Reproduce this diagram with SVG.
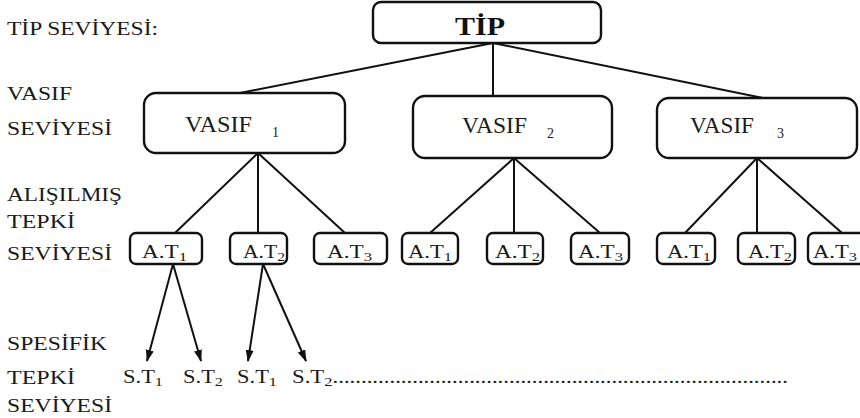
<svg xmlns="http://www.w3.org/2000/svg" width="860" height="418" viewBox="0 0 860 418">
<defs>
<style>
.bg{fill:#ffffff}
.box{fill:#ffffff;stroke:#111;stroke-width:2.4}
text{font-family:'Liberation Serif','DejaVu Serif',serif;fill:#1a1a1a}
.lbl{font-size:18px}
.vs{font-size:22.5px}
.tip{font-size:26px;font-weight:bold;fill:#111}
.at{font-size:18px}
.sub{font-size:13px}
.vsub{font-size:14px}
.ln{stroke:#111;stroke-width:2;fill:none}
.ar{stroke:#111;stroke-width:2;fill:none;marker-end:url(#ah)}
</style>
<marker id="ah" viewBox="0 0 12 8" refX="11" refY="4" markerWidth="12" markerHeight="8" markerUnits="userSpaceOnUse" orient="auto">
<path d="M0,0 L12,4 L0,8 Z" fill="#111"/>
</marker>
</defs>
<rect class="bg" x="0" y="0" width="860" height="418"/>

<g id="level-labels">
<text class="lbl" x="7" y="35" textLength="151" lengthAdjust="spacingAndGlyphs">TİP SEVİYESİ:</text>
<text class="lbl" x="7" y="100" textLength="65" lengthAdjust="spacingAndGlyphs">VASIF</text>
<text class="lbl" x="7" y="135" textLength="105" lengthAdjust="spacingAndGlyphs">SEVİYESİ</text>
<text class="lbl" x="7" y="201" textLength="115" lengthAdjust="spacingAndGlyphs">ALIŞILMIŞ</text>
<text class="lbl" x="7" y="228" textLength="68" lengthAdjust="spacingAndGlyphs">TEPKİ</text>
<text class="lbl" x="7" y="260" textLength="105" lengthAdjust="spacingAndGlyphs">SEVİYESİ</text>
<text class="lbl" x="7" y="350" textLength="100" lengthAdjust="spacingAndGlyphs">SPESİFİK</text>
<text class="lbl" x="7" y="384" textLength="68" lengthAdjust="spacingAndGlyphs">TEPKİ</text>
<text class="lbl" x="7" y="412" textLength="105" lengthAdjust="spacingAndGlyphs">SEVİYESİ</text>
</g>

<g id="connectors">
<line class="ln" x1="493" y1="43" x2="240" y2="93"/>
<line class="ln" x1="493" y1="43" x2="493" y2="96"/>
<line class="ln" x1="493" y1="43" x2="763" y2="98"/>
<line class="ln" x1="258" y1="153" x2="175" y2="233"/>
<line class="ln" x1="258" y1="153" x2="258" y2="233"/>
<line class="ln" x1="258" y1="153" x2="345" y2="233"/>
<line class="ln" x1="514" y1="158" x2="430" y2="233"/>
<line class="ln" x1="514" y1="158" x2="514" y2="233"/>
<line class="ln" x1="514" y1="158" x2="600" y2="233"/>
<line class="ln" x1="757" y1="158" x2="685" y2="233"/>
<line class="ln" x1="757" y1="158" x2="757" y2="233"/>
<line class="ln" x1="757" y1="158" x2="842" y2="233"/>
<line class="ar" x1="173" y1="264" x2="147" y2="361"/>
<line class="ar" x1="173" y1="264" x2="201" y2="361"/>
<line class="ar" x1="263" y1="264" x2="248" y2="361"/>
<line class="ar" x1="263" y1="264" x2="306" y2="361"/>
</g>

<g id="tip">
<rect class="box" x="373" y="2" width="228" height="41" rx="8"/>
<text class="tip" x="455" y="35" textLength="50" lengthAdjust="spacingAndGlyphs">TİP</text>
</g>

<g id="vasif1">
<rect class="box" x="144" y="93" width="201" height="60" rx="12"/>
<text class="vs" x="185" y="132" textLength="67" lengthAdjust="spacingAndGlyphs">VASIF</text>
<text class="vsub" x="272" y="137">1</text>
</g>
<g id="vasif2">
<rect class="box" x="413" y="96" width="199" height="62" rx="12"/>
<text class="vs" x="462" y="133" textLength="65" lengthAdjust="spacingAndGlyphs">VASIF</text>
<text class="vsub" x="547" y="138">2</text>
</g>
<g id="vasif3">
<rect class="box" x="657" y="98" width="200" height="60" rx="12"/>
<text class="vs" x="690" y="133" textLength="64" lengthAdjust="spacingAndGlyphs">VASIF</text>
<text class="vsub" x="777" y="138">3</text>
</g>

<g id="at1-1">
<rect class="box" x="130" y="233" width="72" height="31" rx="6"/>
<text class="at" x="142" y="258" textLength="45" lengthAdjust="spacingAndGlyphs">A.T<tspan class="sub" dy="3">1</tspan></text>
</g>
<g id="at1-2">
<rect class="box" x="230" y="233" width="57" height="31" rx="6"/>
<text class="at" x="243" y="258" textLength="42" lengthAdjust="spacingAndGlyphs">A.T<tspan class="sub" dy="3">2</tspan></text>
</g>
<g id="at1-3">
<rect class="box" x="314" y="233" width="73" height="31" rx="6"/>
<text class="at" x="327" y="258" textLength="45" lengthAdjust="spacingAndGlyphs">A.T<tspan class="sub" dy="3">3</tspan></text>
</g>
<g id="at2-1">
<rect class="box" x="402" y="233" width="56" height="31" rx="6"/>
<text class="at" x="408" y="258" textLength="44" lengthAdjust="spacingAndGlyphs">A.T<tspan class="sub" dy="3">1</tspan></text>
</g>
<g id="at2-2">
<rect class="box" x="487" y="233" width="56" height="31" rx="6"/>
<text class="at" x="495" y="258" textLength="45" lengthAdjust="spacingAndGlyphs">A.T<tspan class="sub" dy="3">2</tspan></text>
</g>
<g id="at2-3">
<rect class="box" x="571" y="233" width="58" height="31" rx="6"/>
<text class="at" x="578" y="258" textLength="45" lengthAdjust="spacingAndGlyphs">A.T<tspan class="sub" dy="3">3</tspan></text>
</g>
<g id="at3-1">
<rect class="box" x="657" y="233" width="58" height="31" rx="6"/>
<text class="at" x="667" y="258" textLength="44" lengthAdjust="spacingAndGlyphs">A.T<tspan class="sub" dy="3">1</tspan></text>
</g>
<g id="at3-2">
<rect class="box" x="738" y="233" width="57" height="31" rx="6"/>
<text class="at" x="748" y="258" textLength="44" lengthAdjust="spacingAndGlyphs">A.T<tspan class="sub" dy="3">2</tspan></text>
</g>
<g id="at3-3">
<rect class="box" x="808" y="233" width="62" height="31" rx="6"/>
<text class="at" x="813" y="258" textLength="44" lengthAdjust="spacingAndGlyphs">A.T<tspan class="sub" dy="3">3</tspan></text>
</g>

<g id="st1">
<text class="at" x="123" y="383" textLength="40" lengthAdjust="spacingAndGlyphs">S.T<tspan class="sub" dy="3">1</tspan></text>
</g>
<g id="st2">
<text class="at" x="183" y="383" textLength="40" lengthAdjust="spacingAndGlyphs">S.T<tspan class="sub" dy="3">2</tspan></text>
</g>
<g id="st3">
<text class="at" x="237" y="383" textLength="40" lengthAdjust="spacingAndGlyphs">S.T<tspan class="sub" dy="3">1</tspan></text>
</g>
<g id="st4">
<text class="at" x="292" y="383" textLength="496" lengthAdjust="spacingAndGlyphs">S.T<tspan class="sub" dy="3">2</tspan><tspan dy="-3">................................................................................</tspan></text>
</g>
</svg>
